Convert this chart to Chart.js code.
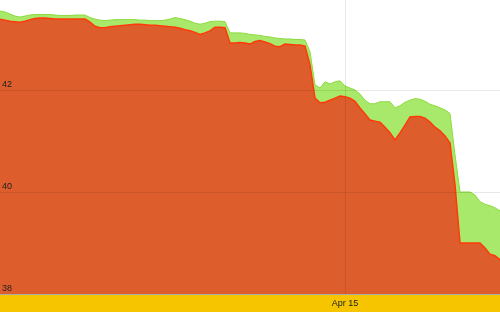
<!DOCTYPE html>
<html>
<head>
<meta charset="utf-8">
<script src="https://cdn.jsdelivr.net/npm/chart.js@4"></script>
<style>
html,body{margin:0;padding:0;background:#fff;}
#wrap{width:500px;height:312px;}
</style>
</head>
<body>
<div id="wrap"><canvas id="c" width="500" height="312"></canvas></div>
<script>
// Upper series (green band top)
const highValues = [
43.55,43.53,43.49,43.45,43.43,43.45,43.47,43.48,43.48,43.48,
43.48,43.47,43.46,43.46,43.46,43.47,43.47,43.47,43.42,43.39,
43.37,43.36,43.37,43.38,43.38,43.38,43.38,43.38,43.37,43.37,
43.36,43.36,43.36,43.37,43.39,43.42,43.40,43.38,43.35,43.31,
43.29,43.31,43.34,43.35,43.35,43.34,43.12,43.12,43.12,43.11,
43.09,43.08,43.07,43.05,43.04,43.02,43.01,43.00,43.00,42.99,
42.99,42.98,42.75,42.10,42.04,42.16,42.12,42.16,42.18,42.08,
42.04,42.00,41.92,41.80,41.73,41.73,41.77,41.77,41.77,41.65,
41.69,41.76,41.80,41.83,41.82,41.78,41.72,41.69,41.65,41.61,
41.54,40.73,40.00,40.00,40.00,39.94,39.81,39.76,39.73,39.69,
39.63
];
// Lower series (orange area top)
const lowValues = [
43.39,43.37,43.35,43.34,43.33,43.35,43.38,43.40,43.41,43.41,
43.40,43.39,43.39,43.39,43.39,43.39,43.39,43.39,43.33,43.25,
43.22,43.22,43.24,43.25,43.26,43.27,43.28,43.29,43.29,43.28,
43.27,43.27,43.26,43.25,43.24,43.23,43.21,43.18,43.16,43.13,
43.09,43.12,43.16,43.23,43.23,43.22,42.92,42.92,42.93,42.92,
42.90,42.95,42.97,42.94,42.91,42.86,42.85,42.90,42.89,42.88,
42.88,42.86,42.49,41.84,41.75,41.76,41.80,41.84,41.88,41.87,
41.84,41.78,41.65,41.53,41.41,41.39,41.37,41.27,41.16,41.02,
41.16,41.31,41.47,41.48,41.48,41.45,41.37,41.27,41.20,41.10,
40.96,40.14,39.00,39.00,39.00,39.00,39.00,38.90,38.78,38.75,
38.67
];
const yTicks = [38, 40, 42];
const xTickLabel = 'Apr 15';
const xTickIndex = 69;
const categories = highValues.map((_, i) => (i === xTickIndex ? xTickLabel : ''));

const bandPlugin = {
  id: 'band',
  beforeDraw(chart) {
    const {ctx, chartArea, width, height} = chart;
    ctx.save();
    ctx.fillStyle = '#ffffff';
    ctx.fillRect(0, 0, width, height);
    ctx.fillStyle = '#f6c500';
    ctx.fillRect(0, chartArea.bottom, width, height - chartArea.bottom);
    ctx.restore();
  }
};

new Chart(document.getElementById('c'), {
  type: 'line',
  data: {
    labels: categories,
    datasets: [
      {
        data: lowValues,
        borderColor: '#ff3a0a',
        borderWidth: 1.5,
        backgroundColor: '#dd5e2c',
        fill: 'start',
        pointRadius: 0,
        tension: 0
      },
      {
        data: highValues,
        borderColor: '#8ddb3e',
        borderWidth: 1,
        backgroundColor: '#a8e86a',
        fill: 'start',
        pointRadius: 0,
        tension: 0
      }
    ]
  },
  options: {
    responsive: false,
    animation: false,
    layout: {padding: 0},
    plugins: {legend: {display: false}, tooltip: {enabled: false}},
    scales: {
      x: {
        offset: false,
        border: {display: true, color: '#aaaaaa', width: 1, z: 2},
        grid: {color: 'rgba(0,0,0,0.09)', drawTicks: false, lineWidth: 1, z: 1},
        ticks: {
          z: 2,
          autoSkip: false,
          maxRotation: 0,
          padding: 4,
          color: '#222',
          font: {family: 'Liberation Sans, Arial, sans-serif', size: 9},
          callback(v) { const l = this.getLabelForValue(v); return l ? l : null; }
        },
        afterFit(s) { s.height = 18; }
      },
      y: {
        min: 38,
        max: 38 + 294 / 51,
        border: {display: false},
        grid: {color: 'rgba(0,0,0,0.09)', drawTicks: false, lineWidth: 1, z: 1},
        ticks: {
          z: 2,
          mirror: true,
          padding: 2,
          labelOffset: -5,
          color: '#222',
          font: {family: 'Liberation Sans, Arial, sans-serif', size: 9}
        },
        afterBuildTicks(s) { s.ticks = yTicks.map(v => ({value: v})); },
        afterFit(s) { s.width = 0; s.paddingTop = 0; s.paddingBottom = 0; }
      }
    }
  },
  plugins: [bandPlugin]
});
</script>
</body>
</html>
